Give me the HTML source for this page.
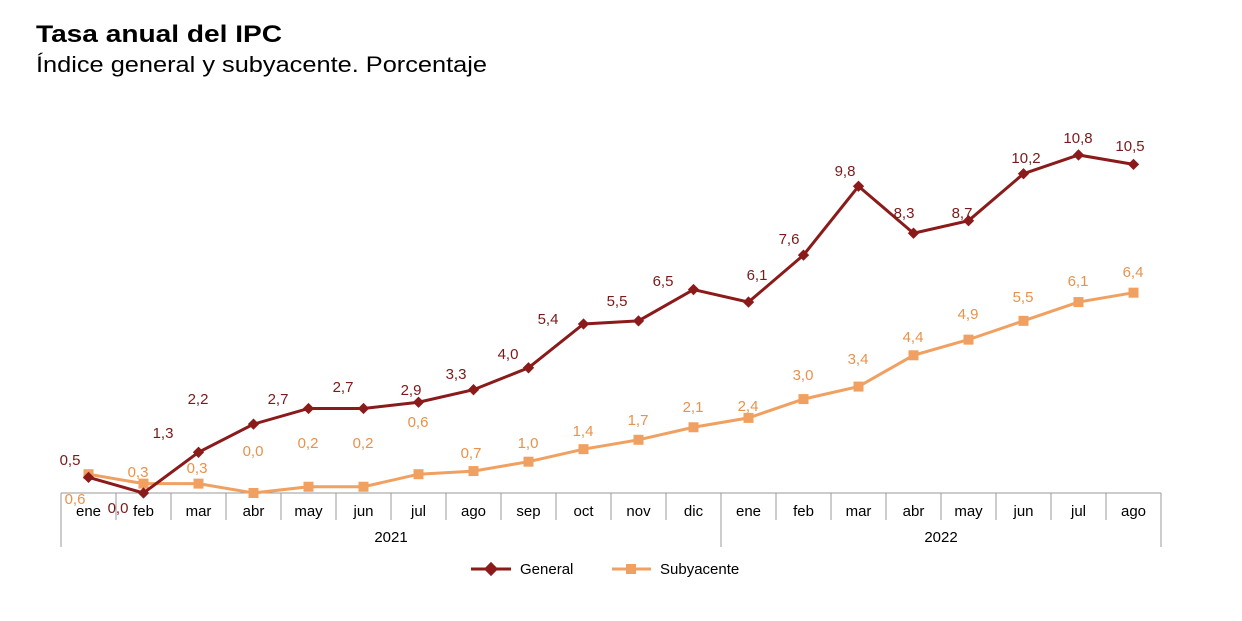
<!DOCTYPE html>
<html><head><meta charset="utf-8"><style>
html,body{margin:0;padding:0;background:#fff;}
svg{display:block;font-family:"Liberation Sans",Arial,sans-serif;}
</style></head><body>
<svg width="1242" height="621" viewBox="0 0 1242 621" xmlns="http://www.w3.org/2000/svg">
<text x="36" y="42" font-size="24" font-weight="bold" fill="#000" textLength="246" lengthAdjust="spacingAndGlyphs">Tasa anual del IPC</text>
<text x="36" y="72" font-size="22" fill="#000" textLength="451" lengthAdjust="spacingAndGlyphs">Índice general y subyacente. Porcentaje</text>
<g stroke="#999" stroke-width="1">
<line x1="61" y1="493" x2="1161" y2="493"/>
<line x1="61" y1="493" x2="61" y2="547"/>
<line x1="721" y1="493" x2="721" y2="547"/>
<line x1="1161" y1="493" x2="1161" y2="547"/>
<g id="t"></g>
</g>
<g id="content"></g>
<text x="391" y="542" font-size="15" text-anchor="middle" fill="#000">2021</text>
<text x="941" y="542" font-size="15" text-anchor="middle" fill="#000">2022</text>
<line x1="471" y1="569" x2="511" y2="569" stroke="#8B1A1A" stroke-width="3"/>
<rect x="486" y="564" width="10" height="10" fill="#8B1A1A" transform="rotate(45 491 569)"/>
<text x="520" y="574" font-size="15" fill="#000">General</text>
<line x1="612" y1="569" x2="651" y2="569" stroke="#F0A060" stroke-width="3"/>
<rect x="626" y="564" width="10" height="10" fill="#F0A060"/>
<text x="660" y="574" font-size="15" fill="#000">Subyacente</text>
<script>
var m=["ene","feb","mar","abr","may","jun","jul","ago","sep","oct","nov","dic","ene","feb","mar","abr","may","jun","jul","ago"];
var g=[0.5,0.0,1.3,2.2,2.7,2.7,2.9,3.3,4.0,5.4,5.5,6.5,6.1,7.6,9.8,8.3,8.7,10.2,10.8,10.5];
var s=[0.6,0.3,0.3,0.0,0.2,0.2,0.6,0.7,1.0,1.4,1.7,2.1,2.4,3.0,3.4,4.4,4.9,5.5,6.1,6.4];
var gl=[[70,465],[118,513],[163,438],[198,404],[278,404],[343,392],[411,395],[456,379],[508,359],[548,324],[617,306],[663,286],[757,280],[789,244],[845,176],[904,218],[962,218],[1026,163],[1078,143],[1130,151]];
var sl=[[75,504],[138,477],[197,473],[253,456],[308,448],[363,448],[418,427],[471,458],[528,448],[583,436],[638,425],[693,412],[748,411],[803,380],[858,364],[913,342],[968,319],[1023,302],[1078,286],[1133,277]];
var NS="http://www.w3.org/2000/svg",c=document.getElementById("content"),t=document.getElementById("t");
function el(n,a,p,txt){var e=document.createElementNS(NS,n);for(var k in a)e.setAttribute(k,a[k]);if(txt!=null)e.textContent=txt;(p||c).appendChild(e);return e;}
function X(i){return 88.5+55*i;}function Y(v){return 493-v*31.3;}
for(var i=0;i<20;i++){
 if(i>0&&i!=12)el("line",{x1:61+55*i,y1:493,x2:61+55*i,y2:520},t);
 el("text",{x:X(i),y:516,"font-size":15,"text-anchor":"middle",fill:"#000"},c,m[i]);
}
function pts(a){return a.map(function(v,i){return X(i)+","+Y(v)}).join(" ");}
el("polyline",{points:pts(s),fill:"none",stroke:"#F0A060","stroke-width":3});
s.forEach(function(v,i){el("rect",{x:X(i)-5,y:Y(v)-5,width:10,height:10,fill:"#F0A060"});});
el("polyline",{points:pts(g),fill:"none",stroke:"#8B1A1A","stroke-width":3});
g.forEach(function(v,i){el("rect",{x:X(i)-4,y:Y(v)-4,width:8,height:8,fill:"#8B1A1A",transform:"rotate(45 "+X(i)+" "+Y(v)+")"});});
g.forEach(function(v,i){el("text",{x:gl[i][0],y:gl[i][1],"font-size":15,"text-anchor":"middle",fill:"#7A1A1A"},c,v.toFixed(1).replace(".",","));});
s.forEach(function(v,i){el("text",{x:sl[i][0],y:sl[i][1],"font-size":15,"text-anchor":"middle",fill:"#E8924A"},c,v.toFixed(1).replace(".",","));});
</script>
</svg>
</body></html>
